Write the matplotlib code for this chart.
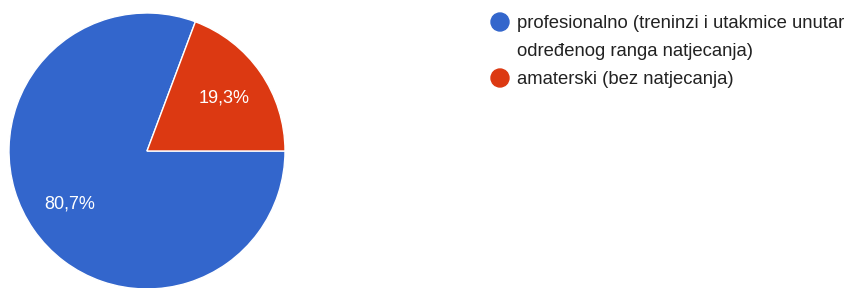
import matplotlib.pyplot as plt
from matplotlib.patches import Circle

# data
labels = [['profesionalno (treninzi i utakmice unutar', 'određenog ranga natjecanja)'],
          ['amaterski (bez natjecanja)']]
values = [80.7, 19.3]
colors = ['#3366CC', '#DC3912']

plt.rcParams['font.family'] = ['Liberation Sans', 'DejaVu Sans']

W, H = 846, 288
fig = plt.figure(figsize=(W / 100, H / 100), dpi=100)

# pie axes placed in pixels: centre (147,151), radius 138
cx, cy, r = 147, 151, 138
ax = fig.add_axes([(cx - r) / W, (H - cy - r) / H, 2 * r / W, 2 * r / H])
wedges, texts, autotexts = ax.pie(
    values, colors=colors, startangle=0, counterclock=False, radius=1,
    autopct=lambda p: ('%.1f%%' % p).replace('.', ','), pctdistance=0.68,
    wedgeprops=dict(edgecolor='white', linewidth=1),
    textprops=dict(color='white', fontsize=13))
ax.set_xlim(-1, 1)
ax.set_ylim(-1, 1)
ax.set_aspect('equal')
ax.axis('off')

# legend drawn by hand, one text per line
lx, ly, dy = 500, 22, 28
row = 0
for lines, col in zip(labels, colors):
    fig.patches.append(Circle((lx, H - (ly + row * dy)), 9, color=col, transform=None))
    for line in lines:
        y = ly + row * dy
        fig.text(517 / W, 1 - y / H, line, fontsize=13.3, color='#222222',
                 va='center_baseline', ha='left')
        row += 1

fig.savefig('out.png', dpi=100)
